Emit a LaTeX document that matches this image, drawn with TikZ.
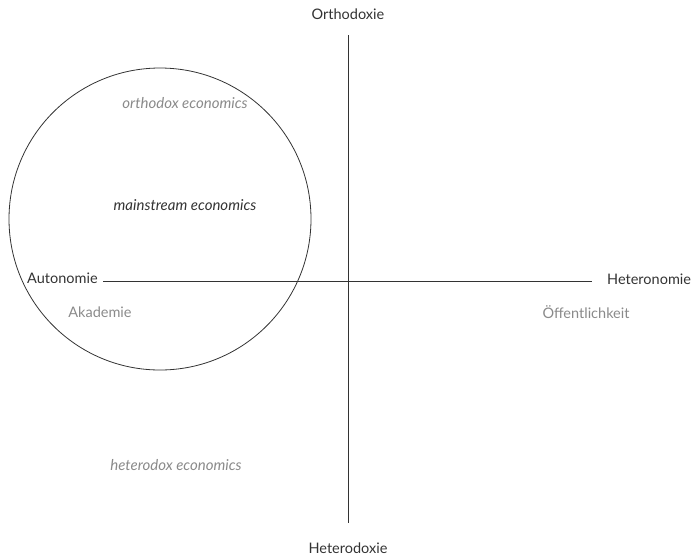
\documentclass[tikz,border=0pt]{standalone}
\usepackage{fontspec}
\setmainfont{Lato}
\usepackage{xcolor}
\usetikzlibrary{positioning}
\definecolor{axisgray}{HTML}{333333}
\definecolor{lightlabel}{HTML}{8A8A8A}
\tikzset{
    axislabel/.style={font=\fontsize{14.5}{17}\selectfont, text=axisgray, inner sep=1pt},
    fieldlabel/.style={font=\fontsize{14.5}{17}\selectfont, text=lightlabel, inner sep=1pt},
    schoollabel/.style={font=\fontsize{15}{18}\selectfont\itshape, text=lightlabel, inner sep=1pt},
    axisline/.style={draw=axisgray, line width=0.8pt},
}

\begin{document}
\begin{tikzpicture}[x=1pt, y=-1pt]
    \useasboundingbox (0,0) rectangle (697,558);

    % axes
    \node[axislabel] (ortho) at (348,14) {Orthodoxie};
    \node[axislabel] (hetero) at (348,548) {Heterodoxie};
    \node[axislabel, anchor=west] (auto) at (26,278) {Autonomie};
    \node[axislabel, anchor=west] (heteronom) at (606,279) {Heteronomie};
    \coordinate (vtop) at (348,35);
    \coordinate (vbot) at (348,523);
    \coordinate (hleft) at (103,281);
    \coordinate (hright) at (592,281);
    \draw[axisline] (vtop) -- (vbot);
    \draw[axisline] (hleft) -- (hright);

    % field
    \node[draw=axisgray, line width=0.8pt, circle, minimum size=302pt, inner sep=0pt] (field) at (160,219) {};
    \node[fieldlabel] (akad) at (100,312) {Akademie};
    \node[fieldlabel] (oeff) at (586,312) {Öffentlichkeit};
    \node[schoollabel] (orthoecon) at (185,103) {orthodox economics};
    \node[schoollabel, text=axisgray] (mainecon) at (185,205) {mainstream economics};
    \node[schoollabel] (heteroecon) at (176,465) {heterodox economics};
\end{tikzpicture}
\end{document}
